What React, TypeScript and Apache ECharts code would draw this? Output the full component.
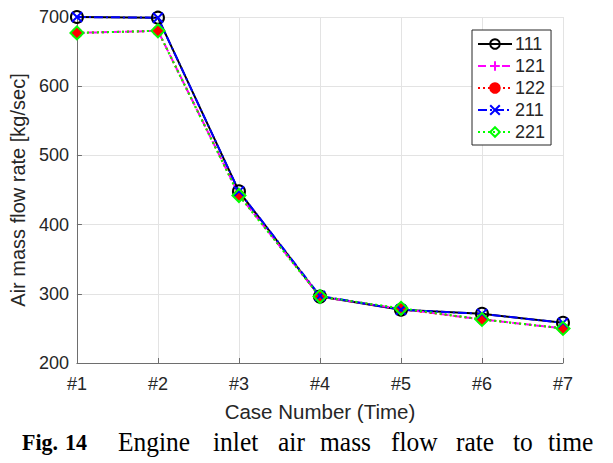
import React, { useEffect, useRef } from "react";
import * as echarts from "echarts";

const categories = ["#1", "#2", "#3", "#4", "#5", "#6", "#7"];
const s111 = [700, 699, 448, 296, 277, 271, 258];
const s121 = [677, 680, 443, 296, 278, 263, 250];
const s122 = [677, 680, 443, 296, 278, 263, 250];
const s211 = [700, 699, 448, 297, 277, 271, 258];
const s221 = [677, 680, 442, 296, 279, 263, 250];
const yTicks = { min: 200, max: 700, interval: 100 };
const captionWords = ["Fig.", "14", "Engine", "inlet", "air", "mass", "flow", "rate", "to", "time"];
const captionX = [22, 65, 118, 213, 278, 320, 391, 456, 513, 548];

const SANS = "'Liberation Sans', Arial, Helvetica, sans-serif";
const SERIF = "'Liberation Serif', 'Times New Roman', serif";
const TXT = "#262626";

export default function App() {
  const ref = useRef<HTMLDivElement>(null);
  useEffect(() => {
    if (!ref.current) return;
    const chart = echarts.init(ref.current, null, { renderer: "svg" });
    const plus = "path://M5,0L5,10M0,5L10,5";
    const cross = "path://M0,0L10,10M10,0L0,10";
    const mk = (name: string, data: number[], color: string, type: any, symbol: string, size: number, fill: string) => ({
      name,
      type: "line",
      data,
      symbol,
      symbolSize: size,
      showAllSymbol: true,
      lineStyle: { color, width: 2, type },
      itemStyle: { color: fill, borderColor: color, borderWidth: 2 },
      emphasis: { disabled: true },
    });
    chart.setOption({
      animation: false,
      backgroundColor: "#fff",
      grid: { left: 76, right: 50, top: 17, bottom: 100, containLabel: false },
      legend: {
        left: 472,
        top: 30,
        orient: "vertical",
        padding: [5, 6, 4, 5],
        itemGap: 4,
        itemWidth: 34,
        itemHeight: 12,
        backgroundColor: "#fff",
        borderColor: TXT,
        borderWidth: 1,
        borderRadius: 0,
        textStyle: { fontFamily: SANS, fontSize: 18, color: TXT, padding: [0, 0, 0, -2] },
        data: ["111", "121", "122", "211", "221"],
      },
      xAxis: {
        type: "category",
        data: categories,
        boundaryGap: false,
        name: "Case Number (Time)",
        nameLocation: "middle",
        nameGap: 38,
        nameTextStyle: { fontFamily: SANS, fontSize: 20.5, color: TXT },
        axisLine: { lineStyle: { color: "#6e6e6e", width: 1 } },
        axisTick: { inside: true, length: 5, lineStyle: { color: "#6e6e6e" } },
        axisLabel: { fontFamily: SANS, fontSize: 18, color: TXT, margin: 12 },
        splitLine: { show: true, lineStyle: { color: "#e3e3e3", width: 1 } },
      },
      yAxis: {
        type: "value",
        min: yTicks.min,
        max: yTicks.max,
        interval: yTicks.interval,
        name: "Air mass flow rate [kg/sec]",
        nameLocation: "middle",
        nameGap: 42,
        nameRotate: 90,
        nameTextStyle: { fontFamily: SANS, fontSize: 20, color: TXT },
        axisLine: { show: true, lineStyle: { color: "#6e6e6e", width: 1 } },
        axisTick: { show: true, inside: true, length: 5, lineStyle: { color: "#6e6e6e" } },
        axisLabel: { fontFamily: SANS, fontSize: 18, color: TXT, margin: 8 },
        splitLine: { show: true, lineStyle: { color: "#e3e3e3", width: 1 } },
      },
      series: [
        mk("111", s111, "#000000", "solid", "circle", 12, "transparent"),
        mk("121", s121, "#ff00ff", [8, 4], plus, 12, "#ff00ff"),
        mk("122", s122, "#ff0000", [2, 3], "circle", 9, "#ff0000"),
        mk("211", s211, "#0000ff", [9, 3, 2, 3], cross, 10, "#0000ff"),
        mk("221", s221, "#00ff00", [2, 3], "diamond", 13, "transparent"),
      ],
      graphic: captionWords.map((w, i) => ({
        type: "text",
        x: captionX[i],
        y: 442,
        scaleY: 1.05,
        style: {
          text: w,
          fontFamily: SERIF,
          fontSize: i < 2 ? 22 : 25.5,
          fontWeight: i < 2 ? "bold" : "normal",
          fill: "#000",
          verticalAlign: "middle",
          align: "left",
        },
      })),
    });
    return () => chart.dispose();
  }, []);
  return <div ref={ref} style={{ width: 613, height: 463, position: "absolute", left: 0, top: 0 }} />;
}
